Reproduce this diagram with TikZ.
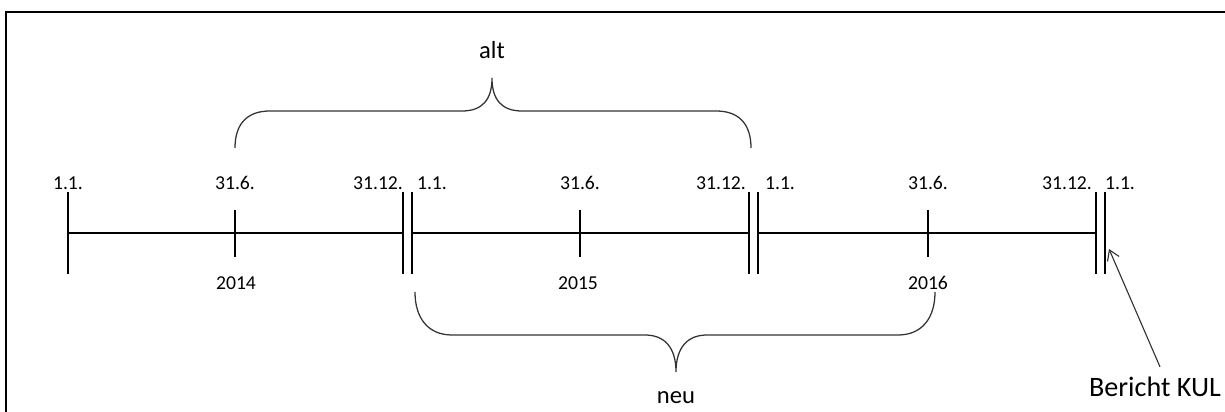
\documentclass[tikz,border=0pt]{standalone}
\usepackage{fontspec}
\setmainfont{Carlito}
\usepackage{tikz}
\usetikzlibrary{arrows.meta,positioning,calc}

\begin{document}
\begin{tikzpicture}[x=0.025cm,y=-0.025cm,
           zeit/.style={line width=2.1pt},
           datum/.style={font=\fontsize{14}{16}\selectfont,inner sep=0pt},
           klammer/.style={line width=0.9pt,black!80},
           gross/.style={font=\fontsize{17.5}{20}\selectfont,inner sep=0pt},
           pfeil/.style={-{Straight Barb[length=7pt,width=9pt]},line width=0.8pt,black!80}]
  \useasboundingbox (0,0) rectangle (1225,412);
  \draw[line width=0.8pt] (1225,12) -- (6,12) -- (6,412);
  % Zeitachse
  \foreach \n/\x in {a14/68,e14/403,a15/412,e15/749,a16/758,e16/1096,a17/1105}
    {\coordinate (\n) at (\x,233); \draw[zeit] (\x,192) -- (\x,274);}
  \foreach \n/\x in {m14/235,m15/580,m16/928}
    {\coordinate (\n) at (\x,233); \draw[zeit] (\x,210) -- (\x,257);}
  \draw[zeit] (a14) -- (e14) (a15) -- (e15) (a16) -- (e16);
  % Daten oben
  \node[datum] (d1) at (68,183) {1.1.};
  \node[datum] (d2) at (235,183) {31.6.};
  \node[datum] (d3) at (378,183) {31.12.};
  \node[datum] (d4) at (432,183) {1.1.};
  \node[datum] (d5) at (580,183) {31.6.};
  \node[datum] (d6) at (721,183) {31.12.};
  \node[datum] (d7) at (780,183) {1.1.};
  \node[datum] (d8) at (928,183) {31.6.};
  \node[datum] (d9) at (1067,183) {31.12.};
  \node[datum] (d10) at (1120,183) {1.1.};
  % Jahre unten
  \node[datum] (j14) at (236,283) {2014};
  \node[datum] (j15) at (578,283) {2015};
  \node[datum] (j16) at (928,283) {2016};
  % Klammern
  \draw[klammer] (235,148) .. controls (235,124) and (247,111) .. (270,111) -- (462,111)
     .. controls (482,111) and (492,100) .. (492,78)
     .. controls (492,100) and (502,111) .. (522,111) -- (716,111)
     .. controls (739,111) and (751,124) .. (751,148);
  \node[gross] (alt) at (492,50) {alt};
  \draw[klammer] (415,292) .. controls (415,318) and (428,335) .. (452,335) -- (645,335)
     .. controls (665,335) and (676,348) .. (676,372)
     .. controls (676,348) and (687,335) .. (707,335) -- (898,335)
     .. controls (922,335) and (935,318) .. (935,292);
  \node[gross] (neu) at (676,398) {neu};
  % Bericht
  \node[gross,font=\fontsize{20}{24}\selectfont] (kul) at (1155,387) {Bericht KUL};
  \coordinate (ziel) at (1109,249);
  \draw[pfeil] ($(kul.north)+(5,-10)$) -- (ziel);
%  \draw[pfeil] (kul) -- (e16);
\end{tikzpicture}
\end{document}
